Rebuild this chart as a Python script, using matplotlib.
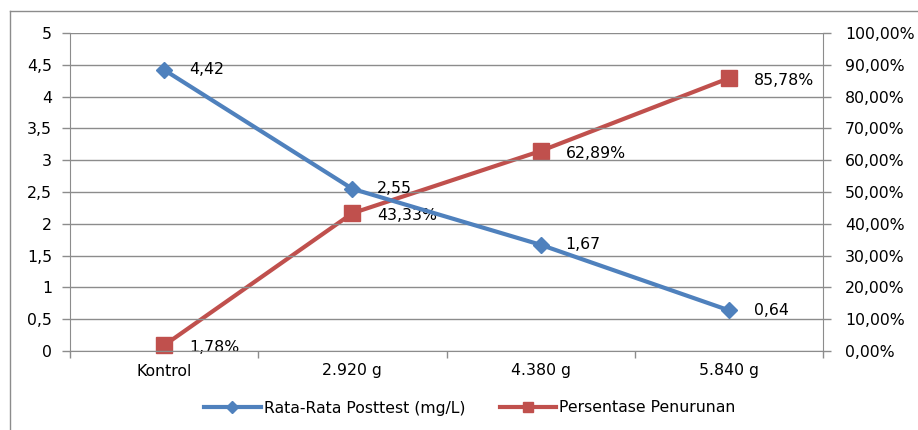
import matplotlib
matplotlib.use("Agg")
import matplotlib.pyplot as plt
from matplotlib.lines import Line2D
import numpy as np

categories = ["Kontrol", "2.920 g", "4.380 g", "5.840 g"]
posttest = [4.42, 2.55, 1.67, 0.64]
penurunan = [1.78, 43.33, 62.89, 85.78]
left_ticks = [0, 0.5, 1, 1.5, 2, 2.5, 3, 3.5, 4, 4.5, 5]
right_ticks = [0, 10, 20, 30, 40, 50, 60, 70, 80, 90, 100]

blue = "#4F81BD"
red = "#C0504D"
grid = "#8C8C8C"
FONT = "DejaVu Sans"
FS = 11.3

plt.rcParams["font.family"] = FONT

fig = plt.figure(figsize=(9.18, 4.30), dpi=100)
W, H = 918, 430
ax = fig.add_axes([70 / W, 1 - 351 / H, (823 - 70) / W, (351 - 33) / H])
ax2 = ax.twinx()

x = np.arange(len(categories))
ax.set_xlim(-0.5, len(categories) - 0.5)
ax.set_ylim(0, 5)
ax2.set_ylim(0, 100)

ax.set_yticks(left_ticks)
ax.set_yticklabels([("%g" % v).replace(".", ",") for v in left_ticks])
ax2.set_yticks(right_ticks)
ax2.set_yticklabels([("%.2f%%" % v).replace(".", ",") for v in right_ticks])

ax.set_xticks(x)
ax.set_xticklabels(categories)
ax.set_xticks(np.arange(-0.5, len(categories), 1.0), minor=True)
ax.tick_params(axis="x", which="major", length=0, pad=9, labelsize=FS)
ax.tick_params(axis="x", which="minor", length=5, color=grid, width=1, direction="out")
ax.tick_params(axis="y", length=6, color=grid, width=1, direction="out", pad=7, labelsize=FS)
ax2.tick_params(axis="y", length=6, color=grid, width=1, direction="out", pad=10, labelsize=FS)

for a in (ax, ax2):
    for s in a.spines.values():
        s.set_visible(False)
ax.spines["left"].set_visible(True)
ax.spines["left"].set_color(grid)
ax.spines["bottom"].set_visible(True)
ax.spines["bottom"].set_color(grid)
ax2.spines["right"].set_visible(True)
ax2.spines["right"].set_color(grid)

ax.grid(axis="y", color=grid, linewidth=1)
ax.set_axisbelow(True)

l1, = ax.plot(x, posttest, color=blue, linewidth=3, marker="D", markersize=8.5,
              label="Rata-Rata Posttest (mg/L)", zorder=4, clip_on=False)
l2, = ax2.plot(x, penurunan, color=red, linewidth=3, marker="s", markersize=11,
               label="Persentase Penurunan", zorder=3, clip_on=False)
ax.set_zorder(ax2.get_zorder() + 1)
ax.patch.set_visible(False)

for xi, v in zip(x, posttest):
    ax.annotate(("%.2f" % v).replace(".", ","), (xi, v), xytext=(18, 0),
                textcoords="offset points", va="center", ha="left", fontsize=FS)
for xi, v in zip(x, penurunan):
    ax2.annotate(("%.2f%%" % v).replace(".", ","), (xi, v), xytext=(18, -1.5),
                 textcoords="offset points", va="center", ha="left", fontsize=FS)

fig.legend(handles=[l1, l2], loc="center", bbox_to_anchor=(470 / W, 1 - 408 / H),
           ncol=2, frameon=False, fontsize=FS, handlelength=3.6, columnspacing=2.2,
           handletextpad=0.2, markerscale=0.7)

# outer chart frame
fig.add_artist(Line2D([10 / W, 10 / W], [0, 1 - 11 / H], transform=fig.transFigure,
                      color=grid, linewidth=1))
fig.add_artist(Line2D([10 / W, 1], [1 - 11 / H, 1 - 11 / H], transform=fig.transFigure,
                      color=grid, linewidth=1))

fig.savefig("out.png", dpi=100)
